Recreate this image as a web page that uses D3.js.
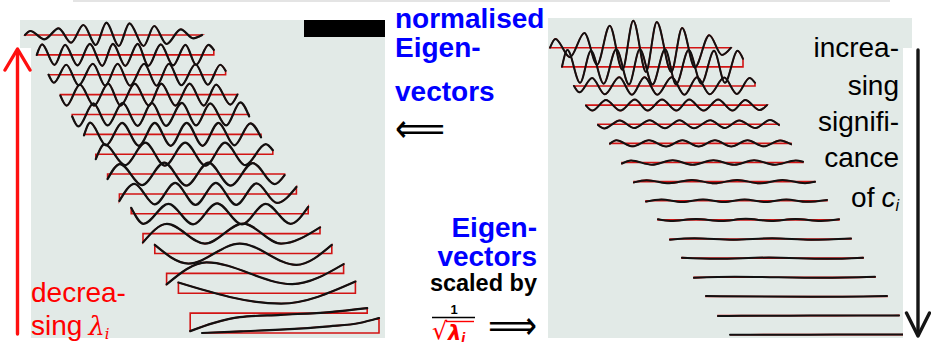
<!DOCTYPE html>
<html><head><meta charset="utf-8">
<script src="https://cdn.jsdelivr.net/npm/d3@7"></script>
<style>html,body{margin:0;padding:0;background:#fff;overflow:hidden}</style>
</head><body>
<svg id="fig" width="931" height="355"></svg>
<script>
// Eigenvector shapes, one list of [position along vector (0..1), value] per mode,
// ordered from the smallest eigenvalue (top) to the largest (bottom).
const modes = [
  [[0,0],[.03,4],[.11,-4.3],[.19,6.7],[.26,-7.7],[.33,10],[.40,-10],[.46,12.3],[.53,-11],[.59,11.7],[.67,-11],[.73,9],[.80,-9],[.88,5.7],[.95,-3.3],[1,0]],
  [[0,0],[.03,10.5],[.10,-10],[.16,10],[.23,-10.5],[.30,11],[.37,-11],[.43,11],[.50,-11],[.57,11],[.63,-11],[.70,10.5],[.77,-10.5],[.84,10],[.90,-10],[.97,10],[1,5]],
  [[0,0],[.03,-8],[.10,10],[.17,-10.5],[.25,11],[.32,-11],[.39,11],[.46,-11],[.54,11],[.61,-11],[.68,11],[.75,-10.5],[.83,10.5],[.90,-10],[.97,10],[1,4]],
  [[0,-1],[.035,-11],[.11,10],[.19,-11],[.27,11],[.34,-11],[.42,11],[.50,-11],[.57,11],[.65,-11],[.73,11],[.81,-11],[.88,10],[.96,-10],[1,0]],
  [[0,-2],[.035,-12],[.12,11],[.20,-11],[.285,11.5],[.37,-11.5],[.45,11.5],[.53,-11.5],[.62,11.5],[.70,-11],[.78,11],[.87,-11],[.95,12],[1,-2]],
  [[0,-1],[.035,11.7],[.125,-11],[.215,11.5],[.31,-11.5],[.40,11.5],[.49,-11.5],[.58,11.5],[.67,-11.5],[.76,11.5],[.85,-11],[.94,11],[1,-3]],
  [[0,-5],[.05,10],[.165,-11],[.28,11.5],[.39,-11.5],[.505,11.5],[.62,-11.5],[.73,11.5],[.845,-11],[.96,10],[1,4]],
  [[0,-5],[.07,10],[.195,-11],[.32,11.5],[.445,-11.5],[.57,11.5],[.695,-11.5],[.82,11],[.945,-10],[1,-1]],
  [[0,-7],[.085,10],[.20,-10.5],[.315,11],[.43,-11],[.545,11],[.66,-11],[.775,10.5],[.89,-9],[1,7]],
  [[0,6],[.07,-10],[.21,10],[.35,-10.5],[.485,10.5],[.625,-10.5],[.76,10],[.90,-10],[1,7]],
  [[0,-8.7],[.135,9.7],[.35,-10],[.565,10],[.78,-10],[1,6.3]],
  [[0,8.6],[.19,-10],[.48,10],[.80,-11.4],[1,8.6]],
  [[0,-11],[.225,11],[.71,-10.7],[1,9.3]],
  [[0,10.7],[.58,-10.3],[1,11.7]],
  [[0,-18],[.13,-10],[.28,-4],[.51,-1.7],[.79,1],[1,5]],
  [[0,0],[.22,1.7],[.44,3.3],[.72,6.7],[.89,10],[1,15]]
];
// Relative 1/sqrt(lambda_i) weight of each mode
const weights = [2.2, 1.6, 0.8, 0.5, 0.35, 0.27, 0.2, 0.15, 0.12, 0.1, 0.08, 0.06, 0.05, 0.04, 0.03, 0.02];

const upperLabel = ["normalised", "Eigen-", "vectors"];
const lowerLabel = ["Eigen-", "vectors"];
const scaledLabel = "scaled by";
const leftNote = ["decrea-", "sing"];
const rightNote = ["increa-", "sing", "signifi-", "cance", "of"];

const svg = d3.select("#fig");
const RED = "#d21414";
const SANS = "'Liberation Sans', Arial, Helvetica, sans-serif";

// faint rule along the top edge
svg.append("line").attr("x1", 73).attr("x2", 890).attr("y1", 1).attr("y2", 1)
  .attr("stroke", "#e4e4e4").attr("stroke-width", 2);

// panel backgrounds
const GREY = "#e2eae7";
svg.append("rect").attr("x", 20).attr("y", 20).attr("width", 365).attr("height", 318).attr("fill", GREY);
svg.append("rect").attr("x", 548).attr("y", 18).attr("width", 364).attr("height", 320).attr("fill", GREY);

function drawPanel(g, cfg) {
  const rowY = d3.scaleLinear().domain([0, modes.length - 1]).range(cfg.yRange);
  const rowX = d3.scaleLinear().domain([0, modes.length - 1]).range(cfg.xRange);
  const along = d3.scaleLinear().domain([0, 1]).range([0, cfg.len]);
  const amp = d3.scaleLinear().domain([-12, 12]).range([12, -12]);
  const rows = modes.map((pts, i) => ({ i, w: cfg.weights ? cfg.weights[i] : 1, pts }));
  const line = w => d3.line().x(d => along(d[0])).y(d => amp(d[1] * w)).curve(d3.curveMonotoneX);
  const outline = w => d3.area().x(d => along(d[0])).y0(amp(0)).y1(d => amp(d[1] * w)).curve(d3.curveMonotoneX);

  const red = g.append("g");
  const blk = g.append("g");
  rows.forEach(r => {
    red.append("path")
      .attr("transform", `translate(${rowX(r.i)},${rowY(r.i)})`)
      .attr("d", outline(r.w)(r.pts))
      .attr("fill", "none").attr("stroke", RED).attr("stroke-width", 1.6)
      .attr("stroke-linejoin", "miter");
  });
  rows.forEach(r => {
    blk.append("path")
      .attr("transform", `translate(${rowX(r.i)},${rowY(r.i)})`)
      .attr("d", line(r.w)(r.pts))
      .attr("fill", "none").attr("stroke", "#111").attr("stroke-width", cfg.sw)
      .attr("stroke-linecap", "round");
  });
}

drawPanel(svg.append("g"), { yRange: [35, 333], xRange: [25, 202], len: 177, sw: 2.2 });
drawPanel(svg.append("g"), { yRange: [47.7, 334.7], xRange: [550, 730], len: 181, sw: 2, weights });

// white strips holding the two arrows
svg.append("rect").attr("x", 0).attr("y", 48).attr("width", 31).attr("height", 307).attr("fill", "#fff");
svg.append("rect").attr("x", 903).attr("y", 48).attr("width", 28).attr("height", 307).attr("fill", "#fff");

// black block at top of left panel
svg.append("rect").attr("x", 304).attr("y", 20).attr("width", 81).attr("height", 17).attr("fill", "#000");

// red "decreasing" arrow
const redArrow = svg.append("g").attr("stroke", "#ff1010").attr("stroke-width", 3.4)
  .attr("fill", "none").attr("stroke-linecap", "round").attr("stroke-linejoin", "round")
  .style("filter", "blur(0.4px)");
redArrow.append("line").attr("x1", 17.5).attr("x2", 17.5).attr("y1", 334).attr("y2", 50);
redArrow.append("polyline").attr("points", "5,70 17.5,49 30,70");

// black "increasing" arrow
const blkArrow = svg.append("g").attr("stroke", "#151515").attr("stroke-width", 3.4)
  .attr("fill", "none").attr("stroke-linecap", "round").attr("stroke-linejoin", "round")
  .style("filter", "blur(0.4px)");
blkArrow.append("line").attr("x1", 918).attr("x2", 918).attr("y1", 50).attr("y2", 335);
blkArrow.append("polyline").attr("points", "906.5,313 918,336 929.5,313");

// centre labels
const upperY = [28, 57, 101];
upperLabel.forEach((t, k) => {
  svg.append("text").attr("x", 395).attr("y", upperY[k]).text(t)
    .attr("font-family", SANS).attr("font-weight", "bold").attr("font-size", 28).attr("fill", "#0000ff");
});
svg.append("text").attr("x", 395).attr("y", 141.5).text("\u27F8")
  .attr("font-family", "'DejaVu Sans', sans-serif").attr("font-size", 40)
  .attr("textLength", 50).attr("lengthAdjust", "spacingAndGlyphs").attr("fill", "#000");

const lowerY = [237, 266];
lowerLabel.forEach((t, k) => {
  svg.append("text").attr("x", 537).attr("y", lowerY[k]).text(t).attr("text-anchor", "end")
    .attr("font-family", SANS).attr("font-weight", "bold").attr("font-size", 28).attr("fill", "#0000ff");
});
svg.append("text").attr("x", 537).attr("y", 290.5).text(scaledLabel).attr("text-anchor", "end")
  .attr("font-family", SANS).attr("font-weight", "bold").attr("font-size", 23.5).attr("fill", "#000");

// 1 / sqrt(lambda_i)
svg.append("text").attr("x", 454).attr("y", 314).text("1").attr("text-anchor", "middle")
  .attr("font-family", SANS).attr("font-weight", "bold").attr("font-size", 13).attr("fill", "#000");
svg.append("line").attr("x1", 432).attr("x2", 475).attr("y1", 317.5).attr("y2", 317.5)
  .attr("stroke", "#000").attr("stroke-width", 1.3);
svg.append("text").attr("x", 432).attr("y", 339).text("\u221A")
  .attr("font-family", "'DejaVu Sans', sans-serif").attr("font-size", 24).attr("fill", "#ff0000");
svg.append("line").attr("x1", 446).attr("x2", 474).attr("y1", 321.5).attr("y2", 321.5)
  .attr("stroke", "#ff0000").attr("stroke-width", 1.4);
const sq = svg.append("text").attr("x", 448).attr("y", 339.5).attr("fill", "#ff0000")
  .attr("font-family", "'DejaVu Sans', sans-serif").attr("font-weight", "bold").attr("font-style", "italic");
sq.append("tspan").attr("font-size", 21).text("\u03BB");
sq.append("tspan").attr("font-size", 12).attr("dy", 2).text("i");
svg.append("text").attr("x", 488).attr("y", 339).text("\u27F9")
  .attr("font-family", "'DejaVu Sans', sans-serif").attr("font-size", 40)
  .attr("textLength", 49).attr("lengthAdjust", "spacingAndGlyphs").attr("fill", "#000");

// left note
const leftY = [301.5, 335];
leftNote.forEach((t, k) => {
  const tx = svg.append("text").attr("x", 31).attr("y", leftY[k])
    .attr("font-family", SANS).attr("font-size", 28).attr("fill", "#ff0000");
  tx.append("tspan").text(t);
  if (k === 1) {
    tx.append("tspan").attr("font-family", "'DejaVu Serif', serif").attr("font-style", "italic")
      .attr("font-size", 26).attr("dx", 6).text("\u03BB");
    tx.append("tspan").attr("font-family", "'DejaVu Serif', serif").attr("font-style", "italic")
      .attr("font-size", 15).attr("dy", 4).text("i");
  }
});

// right note
const rightY = [57, 94.5, 130.5, 167, 206.5];
rightNote.forEach((t, k) => {
  const tx = svg.append("text").attr("x", 899).attr("y", rightY[k]).attr("text-anchor", "end")
    .attr("font-family", SANS).attr("font-size", 28).attr("fill", "#000");
  tx.append("tspan").text(t);
  if (k === 4) {
    tx.append("tspan").attr("font-style", "italic").attr("dx", 7).text("c");
    tx.append("tspan").attr("font-style", "italic").attr("font-size", 16).attr("dy", 4).text("i");
  }
});
</script>
</body></html>
